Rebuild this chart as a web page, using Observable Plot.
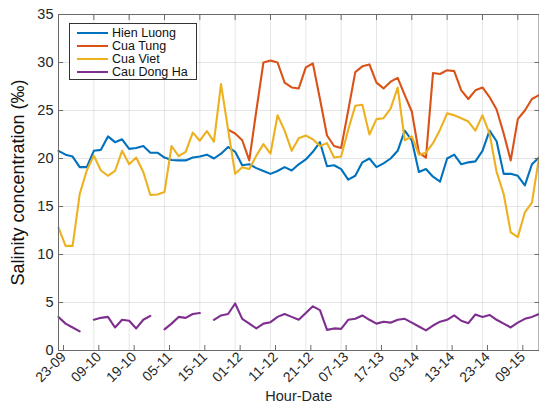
<!DOCTYPE html>
<html>
<head>
<meta charset="utf-8">
<script src="https://cdn.jsdelivr.net/npm/d3@7"></script>
<script src="https://cdn.jsdelivr.net/npm/@observablehq/plot@0.6"></script>
<style>
  body { margin: 0; background: #fff; }
  #chart { position: relative; width: 539px; height: 407px; font-family: "Liberation Sans", Arial, sans-serif; }
  .legend { position: absolute; left: 69px; top: 23px; width: 128px; height: 57px; box-sizing: border-box;
            border: 1px solid #333; background: #fff; }
  .legend .row { position: absolute; left: 0; height: 13px; line-height: 13px; display: flex; align-items: center;
                 font-size: 12.5px; color: #111; white-space: nowrap; }
  .legend .sw { width: 31px; height: 2px; margin-left: 7px; margin-right: 4px; }
</style>
</head>
<body>
<div id="chart"></div>
<script>
// Hour-date tick labels, one every 5 samples
const dateLabels = ["23-09", "09-10", "19-10", "05-11", "15-11", "01-12", "11-12",
                    "21-12", "07-13", "17-13", "03-14", "13-14", "23-14", "09-15"];
const yTicks = [0, 5, 10, 15, 20, 25, 30, 35];

const seriesNames = ["Hien Luong", "Cua Tung", "Cua Viet", "Cau Dong Ha"];
const seriesColors = ["#0072BD", "#D95319", "#EDB120", "#7E2F8E"];

// Salinity (‰) per sample, null where no measurement
const hienLuong = [20.8, 20.4, 20.2, 19.1, 19.1, 20.8, 20.9, 22.3, 21.7, 22.0,
                   21.0, 21.1, 21.3, 20.6, 20.6, 20.1, 19.85, 19.8, 19.8, 20.1,
                   20.2, 20.4, 20.0, 20.5, 21.2, 20.7, 19.3, 19.4, 19.0, 18.7,
                   18.4, 18.7, 19.1, 18.75, 19.4, 19.9, 20.7, 21.7, 19.2, 19.3,
                   18.9, 17.8, 18.2, 19.6, 20.0, 19.1, 19.5, 20.0, 20.8, 22.9,
                   21.9, 18.6, 18.9, 18.1, 17.6, 20.0, 20.4, 19.4, 19.6, 19.7,
                   20.8, 22.9, 21.8, 18.4, 18.4, 18.2, 17.2, 19.4, 20.1];

const cuaTung = [null, null, null, null, null, null, null, null, null, null,
                 null, null, null, null, null, null, null, null, null, null,
                 null, null, null, null, 23.0, 22.6, 21.9, 19.8, 25.0, 30.0,
                 30.2, 30.0, 27.9, 27.4, 27.3, 29.5, 29.9, 26.2, 22.4, 21.3,
                 21.1, 25.0, 29.0, 29.6, 29.8, 27.9, 27.3, 28.0, 28.4, 26.6,
                 24.9, 20.6, 20.1, 28.9, 28.8, 29.2, 29.1, 27.1, 26.2, 27.1,
                 27.4, 26.4, 25.1, 22.6, 19.8, 24.1, 25.0, 26.2, 26.6];

const cuaViet = [12.8, 10.9, 10.9, 16.3, 18.75, 20.3, 18.75, 18.2, 18.7, 20.8,
                 19.4, 20.1, 18.6, 16.2, 16.25, 16.5, 21.3, 20.25, 20.7, 22.7,
                 21.85, 22.85, 21.75, 27.75, 23.0, 18.4, 19.1, 18.9, 20.3, 21.5,
                 20.5, 24.5, 22.9, 20.8, 22.1, 22.4, 22.0, 21.3, 21.6, 20.1,
                 20.2, 23.0, 25.5, 25.6, 22.5, 24.1, 24.2, 25.2, 27.4, 21.9,
                 22.3, 20.4, 20.6, 21.6, 23.0, 24.7, 24.5, 24.2, 23.85, 22.9,
                 24.5, 22.6, 18.6, 16.3, 12.3, 11.8, 14.4, 15.4, 20.1];

const cauDongHa = [3.5, 2.8, 2.4, 2.0, null, 3.2, 3.4, 3.5, 2.4, 3.2,
                   3.1, 2.3, 3.2, 3.6, null, 2.2, 2.8, 3.5, 3.4, 3.8,
                   3.9, null, 3.2, 3.65, 3.8, 4.9, 3.3, 2.8, 2.3, 2.8,
                   2.95, 3.5, 3.8, 3.5, 3.2, 3.9, 4.6, 4.2, 2.15, 2.3,
                   2.25, 3.2, 3.3, 3.65, 3.2, 2.8, 3.0, 2.9, 3.2, 3.3,
                   2.9, 2.5, 2.1, 2.6, 3.0, 3.2, 3.65, 3.1, 2.85, 3.75,
                   3.5, 3.7, 3.2, 2.8, 2.4, 2.9, 3.3, 3.5, 3.8];

const seriesValues = [hienLuong, cuaTung, cuaViet, cauDongHa];
const xTicks = dateLabels.map((_, k) => k * 5);
const lastIndex = hienLuong.length - 1;

// One long-format table per station
const tables = seriesNames.map((name, s) =>
  seriesValues[s].map((v, i) => ({ station: name, i, v })));

const fontFamily = '"Liberation Sans", Arial, sans-serif';

const plot = Plot.plot({
  width: 539,
  height: 407,
  marginLeft: 58,
  marginRight: 0.5,
  marginTop: 14,
  marginBottom: 57,
  style: { fontFamily, fontSize: "14px", color: "#262626", background: "#fff", overflow: "visible" },
  x: { domain: [0, lastIndex] },
  y: { domain: [0, 35] },
  color: { domain: seriesNames, range: seriesColors },
  marks: [
    Plot.gridX(xTicks, { stroke: "#000", strokeOpacity: 0.1 }),
    Plot.gridY(yTicks, { stroke: "#000", strokeOpacity: 0.1 }),
    ...tables.map(t => Plot.line(t, {
      x: "i", y: "v", stroke: "station", strokeWidth: 2.1, strokeLinejoin: "round"
    })),
    Plot.frame({ stroke: "#6a6a6a" }),
    Plot.axisX(xTicks, {
      anchor: "bottom", tickSize: -5, tickPadding: 9, tickRotate: -45, dx: 5,
      tickFormat: i => dateLabels[i / 5], label: null, fontSize: 14, stroke: "#6a6a6a", fill: "#262626"
    }),
    Plot.axisX(xTicks, { anchor: "top", tickSize: -5, tickFormat: () => "", label: null, stroke: "#6a6a6a" }),
    Plot.axisY(yTicks, {
      anchor: "left", tickSize: -5, tickPadding: 10, label: null, fontSize: 14.5, stroke: "#6a6a6a", fill: "#262626"
    }),
    Plot.axisY(yTicks, { anchor: "right", tickSize: -5, tickFormat: () => "", label: null, stroke: "#6a6a6a" }),
    Plot.text(["Salinity concentration (‰)"], {
      frameAnchor: "left", textAnchor: "middle", dx: -40, rotate: -90, fontSize: 18, fill: "#111"
    }),
    Plot.text(["Hour-Date"], {
      frameAnchor: "bottom", dy: 50, fontSize: 14.5, fill: "#262626"
    })
  ]
});

const chart = document.getElementById("chart");
chart.appendChild(plot);

// Legend box in the upper left of the plot area
const legend = document.createElement("div");
legend.className = "legend";
seriesNames.forEach((name, s) => {
  const row = document.createElement("div");
  row.className = "row";
  row.style.top = (2.5 + s * 13) + "px";
  const sw = document.createElement("span");
  sw.className = "sw";
  sw.style.background = seriesColors[s];
  const label = document.createElement("span");
  label.textContent = name;
  row.appendChild(sw);
  row.appendChild(label);
  legend.appendChild(row);
});
chart.appendChild(legend);
</script>
</body>
</html>
